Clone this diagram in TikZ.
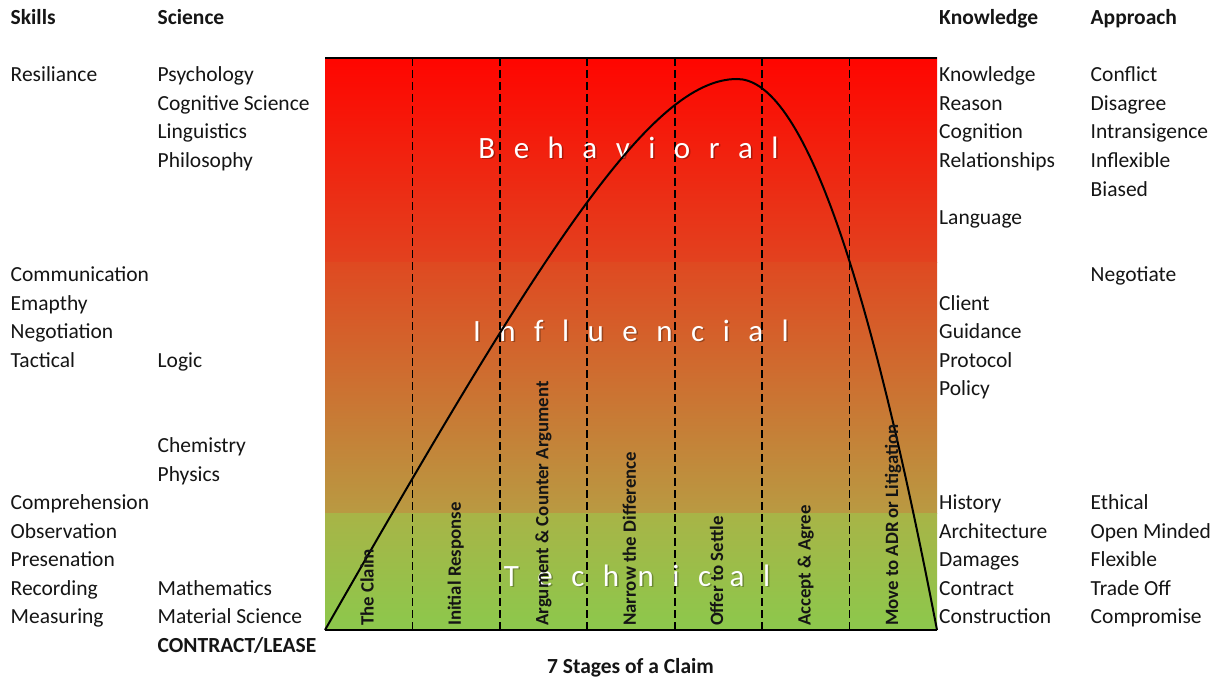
\documentclass[tikz,border=0pt]{standalone}
\usepackage{fontspec}
\setmainfont{Carlito}
\definecolor{ink}{HTML}{151515}
\definecolor{gradA}{HTML}{FF0500}
\definecolor{gradB}{HTML}{F41C0A}
\definecolor{gradC}{HTML}{E2421F}
\definecolor{gradD}{HTML}{DF4921}
\definecolor{gradE}{HTML}{CE7332}
\definecolor{gradF}{HTML}{B99A42}
\definecolor{gradG}{HTML}{A8B447}
\definecolor{gradH}{HTML}{8CC84C}
\newcommand\bigsp{\hspace{18.5pt}}
\begin{document}
\begin{tikzpicture}[x=1pt,y=-1pt,
  lbl/.style={anchor=base west, inner sep=0pt, text=ink, font=\fontsize{21.5}{26}\selectfont},
  hdr/.style={lbl, font=\fontsize{21.5}{26}\selectfont\bfseries},
  stage/.style={rotate=90, anchor=base west, inner sep=0pt, text=ink, font=\fontsize{18.8}{22}\selectfont\bfseries},
  big/.style={anchor=base, inner sep=0pt, text=white, font=\fontsize{31}{36}\selectfont},
  bigshadow/.style={big, text=black, text opacity=0.28},
  divider/.style={draw=black, line width=1.6pt, dash pattern=on 8pt off 4pt},
  rim/.style={draw=black, line width=1.8pt},
  curve/.style={draw=black, line width=2pt}
]
\useasboundingbox (0,0) rectangle (1229,682);
\fill[white] (0,0) rectangle (1229,682);

% colour field: red at the top, through orange, to green at the bottom
\shade[top color=gradA, middle color=gradB, bottom color=gradC] (325,58) rectangle (937,262.6);
\shade[top color=gradD, middle color=gradE, bottom color=gradF] (325,262) rectangle (937,513.6);
\shade[top color=gradG, bottom color=gradH] (325,513) rectangle (937,630);

% corner points of the field
\coordinate (tl) at (325,58);
\coordinate (tr) at (937,58);
\coordinate (bl) at (325,630);
\coordinate (br) at (937,630);

% stage dividers
\foreach \i in {1,...,6} {
  \coordinate (dt\i) at ({325+612*\i/7},58);
  \coordinate (db\i) at ({325+612*\i/7},630);
  \draw[divider] (dt\i) -- (db\i);
}
\draw[rim] (tl) -- (tr);
\draw[rim] (bl) -- (br);

% band captions
\node[bigshadow] (behS) at (630,159.5) {B\bigsp e\bigsp h\bigsp a\bigsp v\bigsp i\bigsp o\bigsp r\bigsp a\bigsp l};
\node[big] (beh) at (628.5,158) {B\bigsp e\bigsp h\bigsp a\bigsp v\bigsp i\bigsp o\bigsp r\bigsp a\bigsp l};
\node[bigshadow] (infS) at (632.5,342.5) {I\bigsp n\bigsp f\bigsp l\bigsp u\bigsp e\bigsp n\bigsp c\bigsp i\bigsp a\bigsp l};
\node[big] (inf) at (631,341) {I\bigsp n\bigsp f\bigsp l\bigsp u\bigsp e\bigsp n\bigsp c\bigsp i\bigsp a\bigsp l};
\node[bigshadow] (tecS) at (638.5,587.5) {T\bigsp e\bigsp c\bigsp h\bigsp n\bigsp i\bigsp c\bigsp a\bigsp l};
\node[big] (tec) at (637,586) {T\bigsp e\bigsp c\bigsp h\bigsp n\bigsp i\bigsp c\bigsp a\bigsp l};

% the claim curve
\coordinate (peak) at (737,79);
\draw[curve] (bl) .. controls (540,254) and (650,79) .. (peak)
                  .. controls (797,79) and (862,240) .. (br);

% stage names
\node[stage] (st1) at (373.5,626) {The Claim};
\node[stage] (st2) at (460.9,626) {Initial Response};
\node[stage] (st3) at (548.4,626) {Argument \& Counter Argument};
\node[stage] (st4) at (635.8,626) {Narrow the Difference};
\node[stage] (st5) at (723.2,626) {Offer to Settle};
\node[stage] (st6) at (810.7,626) {Accept \& Agree};
\node[stage] (st7) at (898.1,626) {Move to ADR or Litigation};

\node[hdr, anchor=base] (title) at (630.5,673) {7 Stages of a Claim};

% column headings
\node[hdr] (hSkills) at (10.5,25) {Skills};
\node[hdr] (hScience) at (157.5,25) {Science};
\node[hdr] (hKnow) at (939,25) {Knowledge};
\node[hdr] (hAppr) at (1090.5,25) {Approach};

% skills
\node[lbl] (k1) at (10.5,82) {Resiliance};
\node[lbl] (k2) at (10.5,281.5) {Communication};
\node[lbl] (k3) at (10.5,310) {Emapthy};
\node[lbl] (k4) at (10.5,338.5) {Negotiation};
\node[lbl] (k5) at (10.5,367) {Tactical};
\node[lbl] (k6) at (10.5,509.5) {Comprehension};
\node[lbl] (k7) at (10.5,538) {Observation};
\node[lbl] (k8) at (10.5,566.5) {Presenation};
\node[lbl] (k9) at (10.5,595) {Recording};
\node[lbl] (k10) at (10.5,623.5) {Measuring};

% sciences
\node[lbl] (c1) at (157.5,82) {Psychology};
\node[lbl] (c2) at (157.5,110.5) {Cognitive Science};
\node[lbl] (c3) at (157.5,139) {Linguistics};
\node[lbl] (c4) at (157.5,167.5) {Philosophy};
\node[lbl] (c5) at (157.5,367) {Logic};
\node[lbl] (c6) at (157.5,452.5) {Chemistry};
\node[lbl] (c7) at (157.5,481) {Physics};
\node[lbl] (c8) at (157.5,595) {Mathematics};
\node[lbl] (c9) at (157.5,623.5) {Material Science};
\node[hdr] (c10) at (157.5,652) {CONTRACT/LEASE};

% knowledge
\node[lbl] (w1) at (939,82) {Knowledge};
\node[lbl] (w2) at (939,110.5) {Reason};
\node[lbl] (w3) at (939,139) {Cognition};
\node[lbl] (w4) at (939,167.5) {Relationships};
\node[lbl] (w5) at (939,224.5) {Language};
\node[lbl] (w6) at (939,310) {Client};
\node[lbl] (w7) at (939,338.5) {Guidance};
\node[lbl] (w8) at (939,367) {Protocol};
\node[lbl] (w9) at (939,395.5) {Policy};
\node[lbl] (w10) at (939,509.5) {History};
\node[lbl] (w11) at (939,538) {Architecture};
\node[lbl] (w12) at (939,566.5) {Damages};
\node[lbl] (w13) at (939,595) {Contract};
\node[lbl] (w14) at (939,623.5) {Construction};

% approach
\node[lbl] (a1) at (1090.5,82) {Conflict};
\node[lbl] (a2) at (1090.5,110.5) {Disagree};
\node[lbl] (a3) at (1090.5,139) {Intransigence};
\node[lbl] (a4) at (1090.5,167.5) {Inflexible};
\node[lbl] (a5) at (1090.5,196) {Biased};
\node[lbl] (a6) at (1090.5,281.5) {Negotiate};
\node[lbl] (a7) at (1090.5,509.5) {Ethical};
\node[lbl] (a8) at (1090.5,538) {Open Minded};
\node[lbl] (a9) at (1090.5,566.5) {Flexible};
\node[lbl] (a10) at (1090.5,595) {Trade Off};
\node[lbl] (a11) at (1090.5,623.5) {Compromise};
\end{tikzpicture}
\end{document}
